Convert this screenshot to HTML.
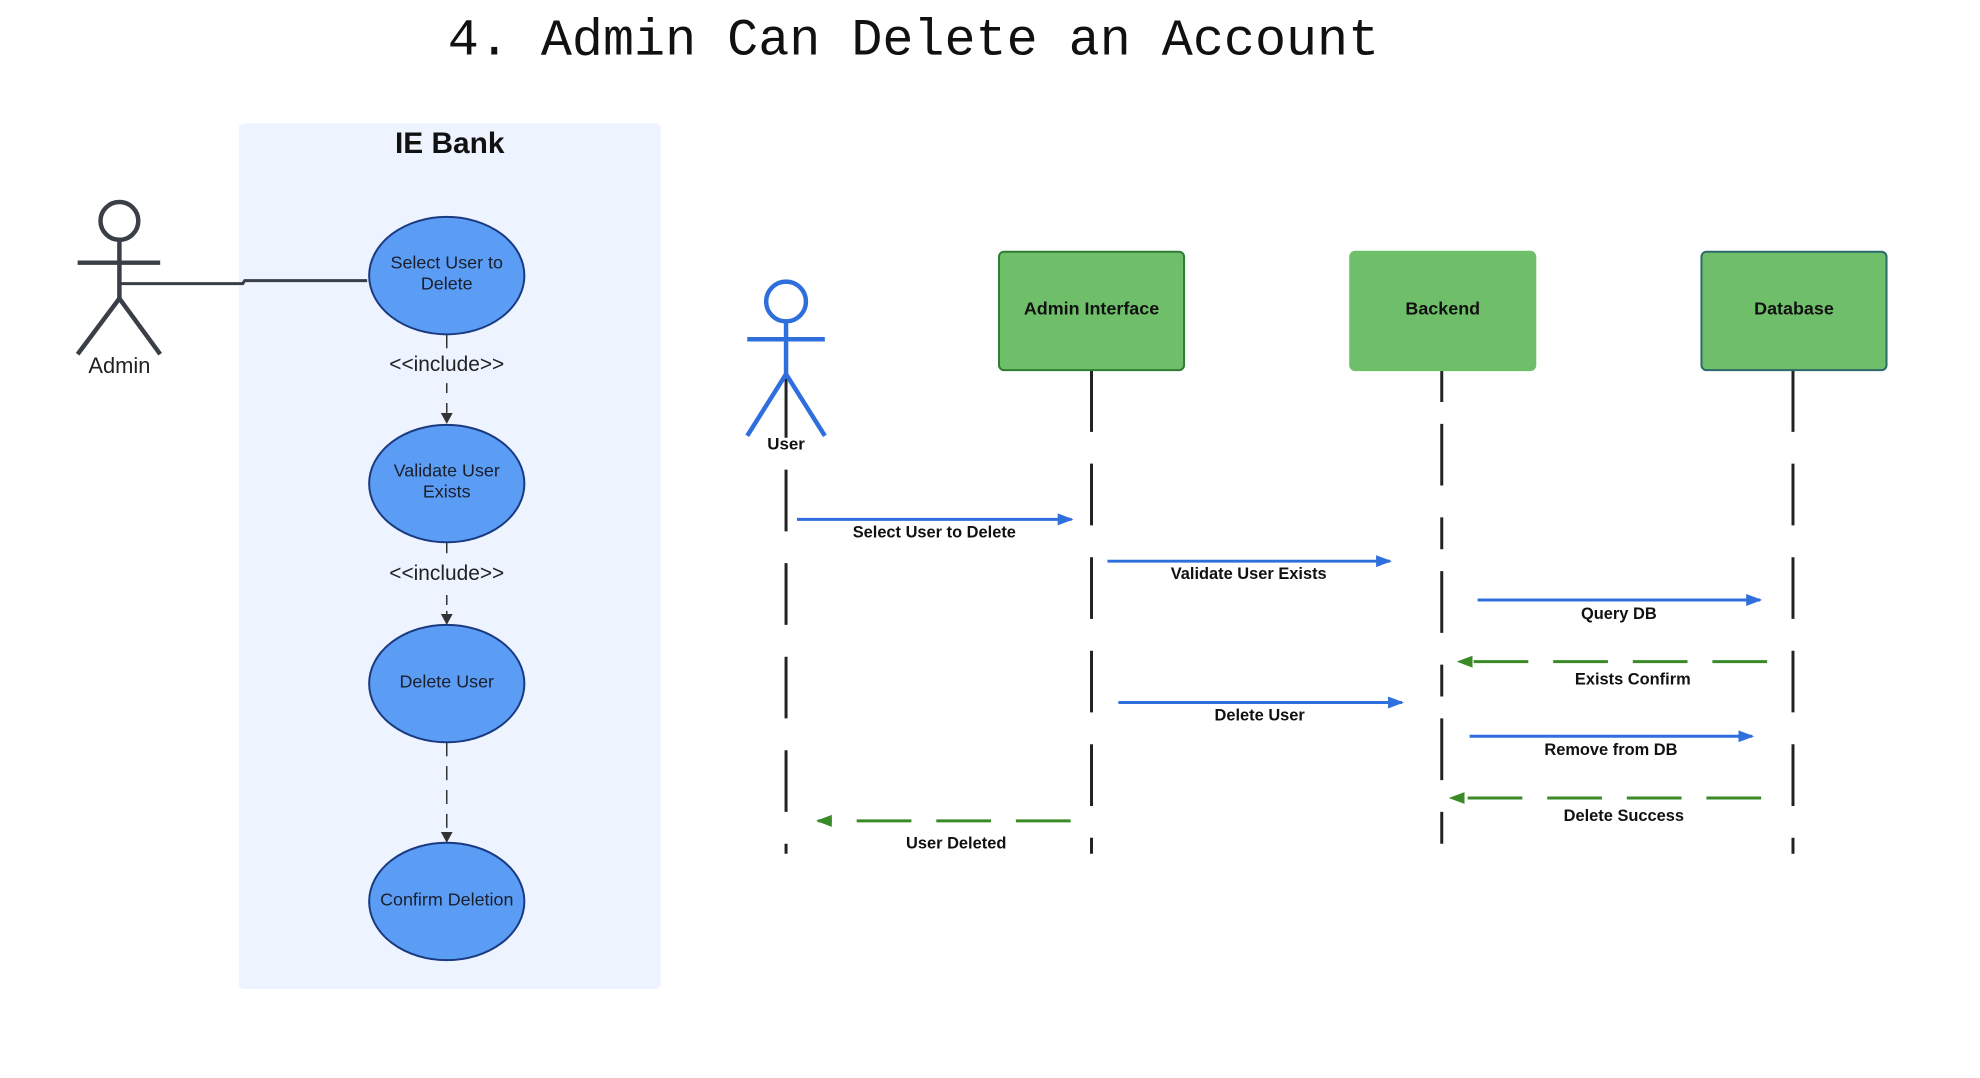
<!DOCTYPE html>
<html><head><meta charset="utf-8"><style>
html,body{margin:0;padding:0;background:#fff;width:1980px;height:1078px;overflow:hidden}
svg{display:block}
text{font-family:"Liberation Sans",sans-serif}
</style></head><body>
<svg width="1980" height="1078" viewBox="0 0 1980 1078">
<defs>
<marker id="ab" markerWidth="16" markerHeight="14" refX="14" refY="7" orient="auto" markerUnits="userSpaceOnUse"><path d="M0,1 L16,7 L0,13 Z" fill="#2f6fdd"/></marker>
<marker id="ag" markerWidth="16" markerHeight="14" refX="14" refY="7" orient="auto" markerUnits="userSpaceOnUse"><path d="M0,1 L16,7 L0,13 Z" fill="#3a8a28"/></marker>
<marker id="ak" markerWidth="12" markerHeight="14" refX="10" refY="7" orient="auto" markerUnits="userSpaceOnUse"><path d="M0,1 L11,7 L0,13 Z" fill="#333"/></marker>
</defs>
<g transform="scale(0.995)">
<text x="450" y="55" font-size="52" fill="#111" style="font-family:'Liberation Mono',monospace">4. Admin Can Delete an Account</text>

<rect x="240" y="124" width="424" height="870" rx="5" fill="#edf4ff"/>
<text x="452" y="154" text-anchor="middle" font-size="30" font-weight="bold" fill="#111">IE Bank</text>

<g stroke="#3a3f47" stroke-width="4.5" fill="none">
<circle cx="120" cy="222" r="19"/>
<line x1="120" y1="241" x2="120" y2="300"/>
<line x1="78" y1="264" x2="161" y2="264"/>
<line x1="120" y1="300" x2="78" y2="356"/>
<line x1="120" y1="300" x2="161" y2="356"/>
</g>
<path d="M122,285 L244,285 L246,282 L369,282" stroke="#3a3f47" stroke-width="3" fill="none"/>
<text x="120" y="375" text-anchor="middle" font-size="22" fill="#222">Admin</text>

<g stroke="#333" stroke-width="1.5" fill="none">
<line x1="449" y1="336" x2="449" y2="350" />
<line x1="449" y1="385" x2="449" y2="425" stroke-dasharray="10,10" marker-end="url(#ak)"/>
<line x1="449" y1="545" x2="449" y2="556"/>
<line x1="449" y1="598" x2="449" y2="627" stroke-dasharray="10,6" marker-end="url(#ak)"/>
<line x1="449" y1="746" x2="449" y2="846" stroke-dasharray="14,10" marker-end="url(#ak)"/>
</g>
<text x="449" y="373" text-anchor="middle" font-size="21" fill="#222">&lt;&lt;include&gt;&gt;</text>
<text x="449" y="583" text-anchor="middle" font-size="21" fill="#222">&lt;&lt;include&gt;&gt;</text>
<g fill="#5b9cf5" stroke="#1a3a80" stroke-width="2">
<ellipse cx="449" cy="277" rx="78" ry="59"/>
<ellipse cx="449" cy="486" rx="78" ry="59"/>
<ellipse cx="449" cy="687" rx="78" ry="59"/>
<ellipse cx="449" cy="906" rx="78" ry="59"/>
</g>
<g font-size="18" fill="#1a1f2b" text-anchor="middle">
<text x="449" y="270">Select User to</text><text x="449" y="291">Delete</text>
<text x="449" y="479">Validate User</text><text x="449" y="500">Exists</text>
<text x="449" y="691">Delete User</text>
<text x="449" y="910">Confirm Deletion</text>
</g>

<g stroke="#222" stroke-width="3" stroke-dasharray="62,32">
<line x1="790" y1="378" x2="790" y2="858"/>
<line x1="1097" y1="372" x2="1097" y2="858"/>
<line x1="1449" y1="372" x2="1449" y2="858" stroke-dasharray="32,22,62,32"/>
<line x1="1802" y1="372" x2="1802" y2="858"/>
</g>

<g stroke="#2f6fdd" stroke-width="4.5" fill="none">
<circle cx="790" cy="303" r="20"/>
<line x1="790" y1="323" x2="790" y2="376"/>
<line x1="751" y1="341" x2="829" y2="341"/>
<line x1="790" y1="376" x2="751" y2="438"/>
<line x1="790" y1="376" x2="829" y2="438"/>
</g>
<text x="790" y="452" text-anchor="middle" font-size="17" font-weight="bold" fill="#111">User</text>

<g fill="#6fbf6a" stroke-width="2">
<rect x="1004" y="253" width="186" height="119" rx="5" stroke="#2e7d32"/>
<rect x="1357" y="253" width="186" height="119" rx="5" stroke="#6fbf6a"/>
<rect x="1710" y="253" width="186" height="119" rx="5" stroke="#2a6a6a"/>
</g>
<g font-size="18" font-weight="bold" fill="#111" text-anchor="middle">
<text x="1097" y="316">Admin Interface</text>
<text x="1450" y="316">Backend</text>
<text x="1803" y="316">Database</text>
</g>

<g stroke="#2f6fdd" stroke-width="3" fill="none">
<line x1="801" y1="522" x2="1077" y2="522" marker-end="url(#ab)"/>
<line x1="1113" y1="564" x2="1397" y2="564" marker-end="url(#ab)"/>
<line x1="1485" y1="603" x2="1769" y2="603" marker-end="url(#ab)"/>
<line x1="1124" y1="706" x2="1409" y2="706" marker-end="url(#ab)"/>
<line x1="1477" y1="740" x2="1761" y2="740" marker-end="url(#ab)"/>
</g>
<g stroke="#3a8a28" stroke-width="3" fill="none" stroke-dasharray="55,25">
<line x1="1776" y1="665" x2="1466" y2="665" marker-end="url(#ag)"/>
<line x1="1770" y1="802" x2="1458" y2="802" marker-end="url(#ag)"/>
<line x1="1076" y1="825" x2="822" y2="825" marker-end="url(#ag)"/>
</g>
<g font-size="16.5" font-weight="bold" fill="#111" text-anchor="middle">
<text x="939" y="540">Select User to Delete</text>
<text x="1255" y="582">Validate User Exists</text>
<text x="1627" y="622">Query DB</text>
<text x="1641" y="688">Exists Confirm</text>
<text x="1266" y="724">Delete User</text>
<text x="1619" y="759">Remove from DB</text>
<text x="1632" y="825">Delete Success</text>
<text x="961" y="853">User Deleted</text>
</g>
</g>
</svg>
</body></html>
